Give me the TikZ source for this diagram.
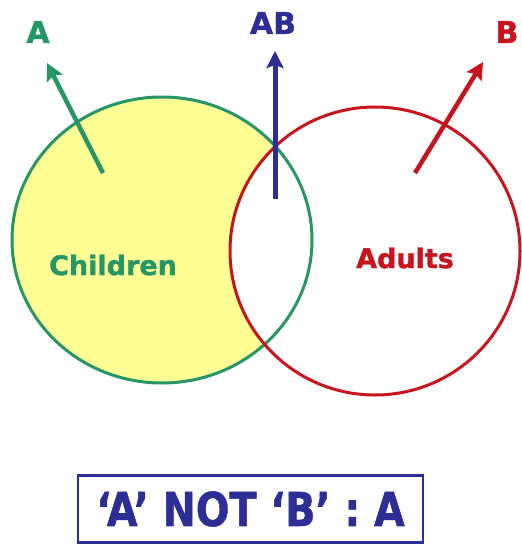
\documentclass[tikz,border=0pt]{standalone}
\usepackage{fontspec}
\setmainfont{DejaVu Sans}[BoldFeatures={FakeBold=1.2}]
\usetikzlibrary{arrows.meta}
\definecolor{vgreen}{RGB}{38,150,100}
\definecolor{vred}{RGB}{200,20,30}
\definecolor{vblue}{RGB}{45,45,150}
\definecolor{vyellow}{RGB}{255,255,150}
\tikzset{
  lbl/.style={font=\fontsize{30}{30}\selectfont\bfseries, inner sep=0pt},
  setlbl/.style={font=\fontsize{27}{27}\selectfont\bfseries, inner sep=0pt},
  arr/.style={line width=4.5pt, -{Stealth[length=17pt,width=17pt,inset=3pt]}},
  ring/.style={line width=3pt}
}
\begin{document}
\begin{tikzpicture}[x=1pt,y=-1pt]
\useasboundingbox (0,0) rectangle (521,545);
% sets
\fill[vyellow] (162,240) ellipse [x radius=150, y radius=143];
\fill[white] (375,251) ellipse [x radius=145, y radius=144];
\draw[ring, vgreen] (162,240) ellipse [x radius=150, y radius=143];
\draw[ring, vred] (375,251) ellipse [x radius=145, y radius=144];
% labels
\node[setlbl, text=vgreen] (children) at (113,265) {Children};
\node[setlbl, text=vred] (adults) at (405,258) {Adults};
\node[lbl, text=vgreen] (la) at (38,32) {A};
\node[lbl, text=vblue] (lab) at (273,23) {AB};
\node[lbl, text=vred] (lb) at (507,32) {B};
% arrow ends
\coordinate (ta) at (103,173);
\coordinate (ha) at (47,63);
\coordinate (tab) at (275,199);
\coordinate (hab) at (275,51);
\coordinate (tb) at (415,173);
\coordinate (hb) at (483,62);
\draw[arr, vgreen] (ta) -- (ha);
\draw[arr, vblue, line width=5pt] (tab) -- (hab);
\draw[arr, vred] (tb) -- (hb);
% result box
\node[draw=vblue, line width=2.5pt, minimum width=345pt, minimum height=67pt, inner sep=0pt,
      text=vblue, font=\fontsize{46.6}{46.6}\selectfont\bfseries] (box) at (250.5,509)
  {\scalebox{0.85}[1]{‘A’ NOT ‘B’ : A}};
\end{tikzpicture}
\end{document}
